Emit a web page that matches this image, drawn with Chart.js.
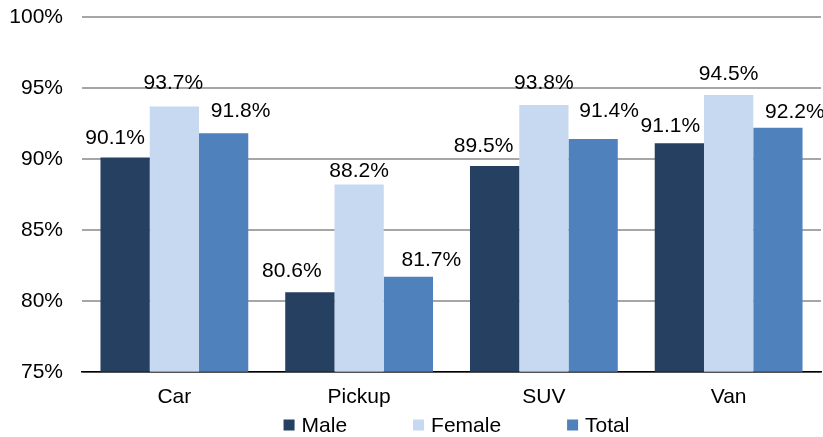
<!DOCTYPE html>
<html>
<head>
<meta charset="utf-8">
<script src="https://cdn.jsdelivr.net/npm/chart.js@4/dist/chart.umd.min.js"></script>
<style>
  html, body { margin: 0; padding: 0; background: #fff; }
  #wrap { width: 823px; height: 437px; position: relative; }
</style>
</head>
<body>
<div id="wrap"><canvas id="grafico" width="823" height="437"></canvas></div>
<script>
// dados
const categorias = ['Car', 'Pickup', 'SUV', 'Van'];
const series = ['Male', 'Female', 'Total'];
const male = [90.1, 80.6, 89.5, 91.1];
const female = [93.7, 88.2, 93.8, 94.5];
const total = [91.8, 81.7, 91.4, 92.2];
const ticksY = [75, 80, 85, 90, 95, 100];

const cores = ['#254061', '#C6D9F1', '#4F81BD'];
const fonte = '"Liberation Sans", Arial, sans-serif';

// rotulos acima das barras (ajustados a mao como no Excel)
const rotulos = {
  id: 'rotulos',
  afterDatasetsDraw(chart) {
    const ctx = chart.ctx;
    const dx = [[-10, -18, -11, -9], [-1, 0, 0, 0], [17, 23, 16, 17]];
    const dy = [[14, 15, 14, 11], [17, 7, 16, 15], [16, 11, 22, 10]];
    ctx.save();
    ctx.font = '21px ' + fonte;
    ctx.fillStyle = '#000';
    ctx.textAlign = 'center';
    ctx.textBaseline = 'alphabetic';
    chart.data.datasets.forEach((ds, i) => {
      chart.getDatasetMeta(i).data.forEach((bar, j) => {
        ctx.fillText(ds.data[j].toFixed(1) + '%', bar.x + dx[i][j], bar.y - dy[i][j]);
      });
    });
    ctx.restore();
  }
};

// legenda desenhada embaixo
const legenda = {
  id: 'legenda',
  afterDraw(chart) {
    const ctx = chart.ctx;
    const area = chart.chartArea;
    const box = 11, gapTxt = 7, gapItem = 66;
    ctx.save();
    ctx.font = '21px ' + fonte;
    ctx.textBaseline = 'middle';
    const larguras = series.map(s => box + gapTxt + ctx.measureText(s).width);
    const totalW = larguras.reduce((a, b) => a + b, 0) + gapItem * (series.length - 1);
    let x = (area.left + area.right) / 2 - totalW / 2 + 5;
    const y = 425;
    series.forEach((s, i) => {
      ctx.fillStyle = cores[i];
      ctx.fillRect(x, y - box / 2, box, box);
      ctx.fillStyle = '#000';
      ctx.fillText(s, x + box + gapTxt, y + 1);
      x += larguras[i] + gapItem;
    });
    ctx.restore();
  }
};

const ctx = document.getElementById('grafico').getContext('2d');
new Chart(ctx, {
  type: 'bar',
  data: {
    labels: categorias,
    datasets: [
      { label: series[0], data: male, backgroundColor: cores[0] },
      { label: series[1], data: female, backgroundColor: cores[1] },
      { label: series[2], data: total, backgroundColor: cores[2] }
    ]
  },
  options: {
    responsive: false,
    animation: false,
    layout: { padding: { top: 17, right: 2, bottom: 14, left: 10 } },
    datasets: { bar: { categoryPercentage: 0.8, barPercentage: 1.0 } },
    plugins: {
      legend: { display: false },
      tooltip: { enabled: false }
    },
    scales: {
      x: {
        grid: { display: false, drawTicks: false },
        border: { color: '#000', width: 1.5 },
        ticks: { color: '#000', font: { family: fonte, size: 21 }, padding: 13 }
      },
      y: {
        min: ticksY[0],
        max: ticksY[ticksY.length - 1],
        afterBuildTicks: axis => { axis.ticks = ticksY.map(v => ({ value: v })); },
        afterFit: axis => {
          axis.width = 72;
          axis.paddingTop = 0;
          axis.paddingBottom = 0;
        },
        grid: { color: '#A6A6A6', lineWidth: 2, drawTicks: false },
        border: { display: false },
        ticks: {
          color: '#000',
          font: { family: fonte, size: 21 },
          padding: 19,
          callback: v => v + '%'
        }
      }
    }
  },
  plugins: [rotulos, legenda]
});
</script>
</body>
</html>
